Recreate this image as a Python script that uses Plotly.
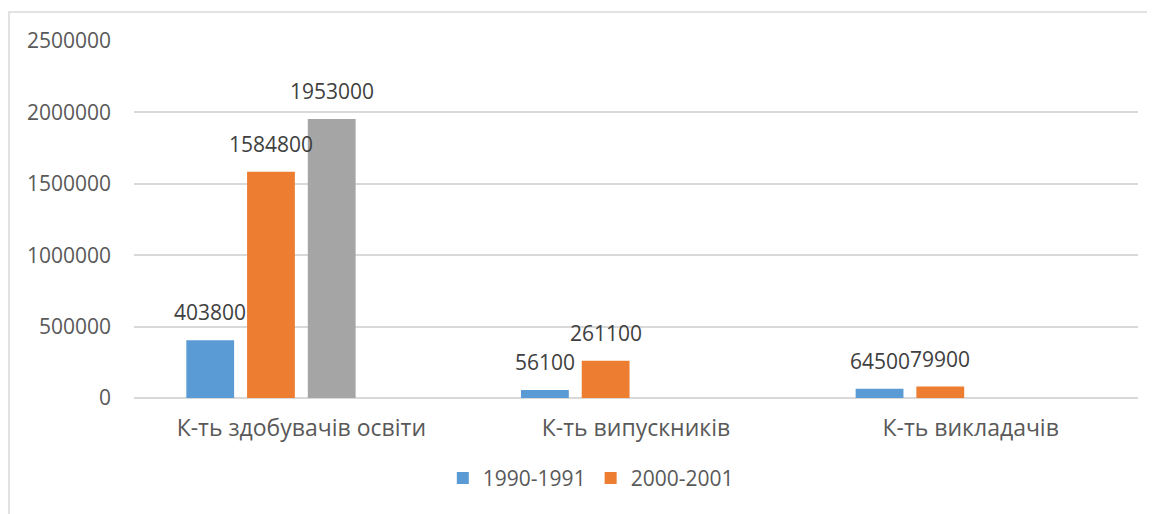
import plotly.graph_objects as go

categories = ["К-ть здобувачів освіти", "К-ть випускників", "К-ть викладачів"]
series_names = ["1990-1991", "2000-2001", "Ряд3", "Ряд4"]
values_1990 = [403800, 56100, 64500]
values_2000 = [1584800, 261100, 79900]
values_s3 = [1953000, None, None]
values_s4 = [None, None, None]
colors = ["#5B9BD5", "#ED7D31", "#A5A5A5", "#FFC000"]
show_in_legend = [True, True, False, False]
y_ticks = [0, 500000, 1000000, 1500000, 2000000, 2500000]

all_values = [values_1990, values_2000, values_s3, values_s4]

FONT = "Open Sans"
fig = go.Figure()
for name, vals, col, sl in zip(series_names, all_values, colors, show_in_legend):
    fig.add_trace(go.Bar(x=categories, y=vals, name=name, marker_color=col,
                         marker_line_width=0, showlegend=sl))

# data labels above each bar
n = len(series_names)
slot = (1 - 0.274) / n
for k, vals in enumerate(all_values):
    for i, v in enumerate(vals):
        if v is None:
            continue
        fig.add_annotation(x=i + (k - (n - 1) / 2) * slot, y=v, xref="x", yref="y",
                           text=str(v), showarrow=False, yanchor="bottom",
                           yshift=12, font=dict(family=FONT, size=21, color="#404040"))

fig.add_shape(type="rect", xref="paper", yref="paper", x0=-0.1245, x1=1.2,
              y0=-0.6, y1=1.081, line=dict(color="#D9D9D9", width=1.5),
              fillcolor="rgba(0,0,0,0)", layer="below")

fig.update_layout(
    width=1147, height=506,
    margin=dict(l=126, r=17, t=33, b=116, autoexpand=False),
    paper_bgcolor="white", plot_bgcolor="white",
    barmode="group", bargap=0.274, bargroupgap=0.213,
    font=dict(family=FONT, size=21, color="#595959"),
    legend=dict(orientation="h", x=0.455, xanchor="center", y=-0.225, yanchor="middle",
                font=dict(family=FONT, size=21, color="#595959"), itemwidth=30,
                traceorder="normal"),
    xaxis=dict(showgrid=False, showline=False, ticks="", tickfont=dict(size=23),
               automargin=False, ticklabelstandoff=14),
    yaxis=dict(range=[0, 2500000], tickvals=y_ticks, ticktext=[str(t) for t in y_ticks],
               showgrid=True, gridcolor="#D9D9D9", gridwidth=1.5, zeroline=True,
               zerolinecolor="#D9D9D9", zerolinewidth=1.5, showline=False,
               ticklabelstandoff=22, tickfont=dict(size=21), automargin=False),
)
fig.write_html("out.html")
